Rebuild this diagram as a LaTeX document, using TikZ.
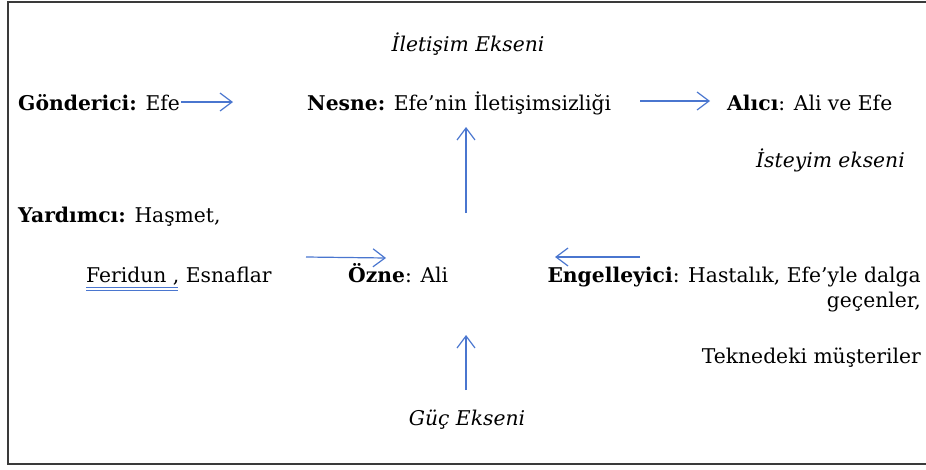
\documentclass[tikz,border=0pt]{standalone}
\usepackage{fontspec}
\setmainfont{DejaVu Serif}
\usepackage{tikz}
\usetikzlibrary{arrows.meta}
\definecolor{akblue}{HTML}{4A76CF}
\definecolor{akframe}{HTML}{3A3A3A}
\tikzset{
  akrole/.style={inner sep=0pt,font=\fontsize{20.3}{25}\selectfont},
  akaxis/.style={akrole,font=\fontsize{20.3}{25}\selectfont\itshape},
  flow/.style={-{Straight Barb[length=12pt,width=18pt,line width=1.2pt]},line width=1.2pt,draw=akblue}
}
\begin{document}
\begin{tikzpicture}[x=1pt,y=-1pt]
  \useasboundingbox (0,0) rectangle (926,469);
  \draw[akframe,line width=1.6pt] (926,2) -- (8,2) -- (8,464) -- (926,464);
  % eksenler
  \node[akaxis,anchor=base] (iletisim) at (468,51) {İletişim Ekseni};
  \node[akaxis,anchor=base east] (isteyim) at (905,167) {İsteyim ekseni};
  \node[akaxis,anchor=base] (guc) at (467,425) {Güç Ekseni};
  % eyleyenler
  \node[akrole,anchor=base west] (gonderici) at (18,110) {\textbf{Gönderici:} Efe};
  \node[akrole,anchor=base west] (nesne) at (307,110) {\textbf{Nesne:} Efe’nin İletişimsizliği};
  \node[akrole,anchor=base west] (alici) at (727,110) {\textbf{Alıcı}: Ali ve Efe};
  \node[akrole,anchor=base west] (yardimci) at (18,222) {\textbf{Yardımcı:} Haşmet,};
  \node[akrole,anchor=base west] (feridun) at (86,282) {Feridun , Esnaflar};
  \node[akrole,anchor=base west] (ozne) at (348,282) {\textbf{Özne}: Ali};
  \node[akrole,anchor=base east] (engel) at (921,282) {\textbf{Engelleyici}: Hastalık, Efe’yle dalga};
  \node[akrole,anchor=base east] (gecenler) at (921,307) {geçenler,};
  \node[akrole,anchor=base east] (tekne) at (921,363) {Teknedeki müşteriler};
  % ok uçları
  \coordinate (g1) at (181,102); \coordinate (g2) at (233,102);
  \coordinate (n1) at (640,101); \coordinate (n2) at (710,101);
  \coordinate (u1) at (466,213); \coordinate (u2) at (466,127);
  \coordinate (y1) at (306,257); \coordinate (y2) at (386,258);
  \coordinate (e1) at (640,257); \coordinate (e2) at (555,257);
  \coordinate (d1) at (466,390); \coordinate (d2) at (466,335);
  \draw[flow] (g1) -- (g2);
  \draw[flow] (n1) -- (n2);
  \draw[flow] (u1) -- (u2);
  \draw[flow] (y1) -- (y2);
  \draw[flow] (e1) -- (e2);
  \draw[flow] (d1) -- (d2);
  % imla altı çizgisi
  \draw[akblue,line width=0.8pt] (86,287) -- (178,287) (86,290) -- (178,290);
\end{tikzpicture}
\end{document}
